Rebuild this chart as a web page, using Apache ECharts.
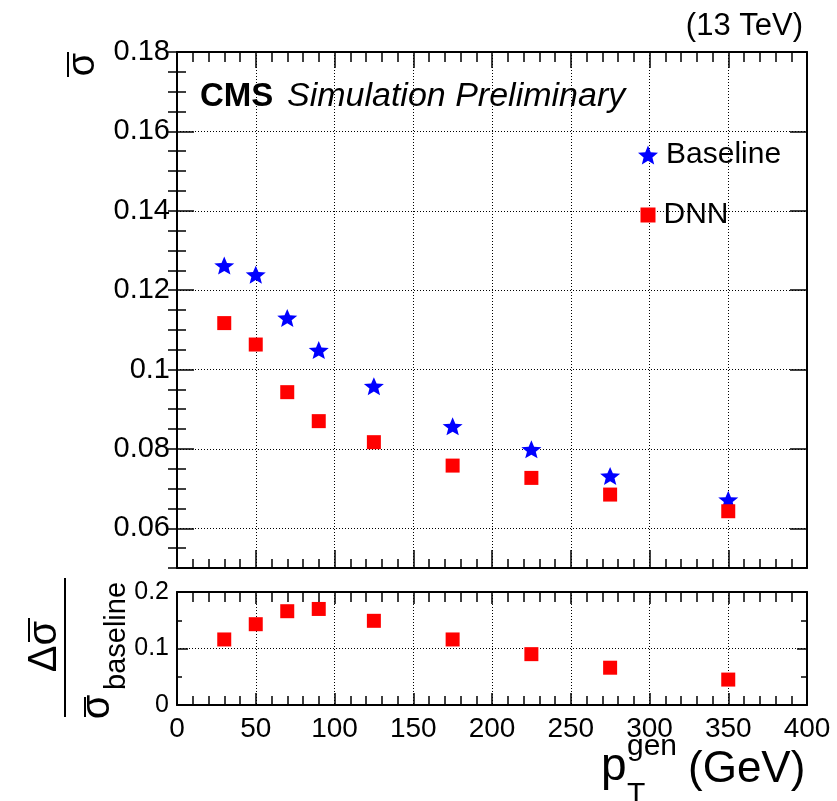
<!DOCTYPE html>
<html>
<head>
<meta charset="utf-8">
<script src="https://cdn.jsdelivr.net/npm/echarts@6/dist/echarts.min.js"></script>
<style>
  html, body { margin: 0; padding: 0; background: #fff; }
  #main { width: 837px; height: 801px; }
</style>
</head>
<body>
<div id="main"></div>
<script>
// values
var ptGen = [30, 50, 70, 90, 125, 175, 225, 275, 350];
var sigmaBaseline = [0.1262, 0.1239, 0.1130, 0.1049, 0.0958, 0.0857, 0.0799, 0.0732, 0.0672];
var sigmaDNN = [0.1117, 0.1063, 0.0943, 0.0870, 0.0817, 0.0758, 0.0727, 0.0685, 0.0643];
var relGain = [0.116, 0.143, 0.166, 0.170, 0.149, 0.116, 0.090, 0.066, 0.045];
var seriesNames = ['Baseline', 'DNN'];

var FONT = '"Liberation Sans", Arial, Helvetica, sans-serif';
// 5 point star like the ROOT marker (no built-in star symbol in echarts)
var STAR = 'path://M50,0L62.93,32.2L97.55,34.55L70.92,56.8L79.39,90.45L50,72L20.61,90.45L29.08,56.8L2.45,34.55L37.07,32.2Z';
var GRIDLINE = { color: '#000', width: 1, type: [1, 2] };

function pairs(xs, ys) {
  var out = [];
  for (var i = 0; i < xs.length; i++) {
    out.push([xs[i], ys[i]]);
  }
  return out;
}

// x axis helper, ROOT style ticks pointing inside
function xAx(grid, pos, major, minor, labels, grid_lines) {
  return {
    type: 'value', gridIndex: grid, position: pos,
    min: 0, max: 400, interval: 50,
    axisLine: { show: true, onZero: false, lineStyle: { color: '#000', width: 2 } },
    axisTick: { show: true, inside: true, length: major, lineStyle: { color: '#000', width: 1.5 } },
    minorTick: { show: true, splitNumber: 5, length: minor, lineStyle: { color: '#000', width: 1.5 } },
    axisLabel: { show: labels, margin: 10, fontSize: 28, color: '#000', fontFamily: FONT },
    splitLine: { show: grid_lines, lineStyle: GRIDLINE }
  };
}

function txt(x, y, s, size, extra) {
  var st = { text: s, fontSize: size, fontFamily: FONT, fill: '#000', align: 'left', verticalAlign: 'middle' };
  for (var k in (extra || {})) st[k] = extra[k];
  return { type: 'text', x: x, y: y, style: st };
}

function legendFor(name, top, size, leftPos) {
  return {
    data: [name], orient: 'vertical',
    left: leftPos, top: top, padding: 0,
    itemWidth: size, itemHeight: size,
    textStyle: { fontSize: 30, color: '#000', fontFamily: FONT, padding: [0, 0, 0, 3] }
  };
}

var myChart = echarts.init(document.getElementById('main'));

var option = {
  backgroundColor: '#fff',
  animation: false,
  grid: [
    { left: 177, top: 52, width: 630, height: 516 },
    { left: 177, top: 592, width: 630, height: 113 }
  ],
  xAxis: [
    xAx(0, 'bottom', 18, 9, false, true),
    xAx(0, 'top', 16, 10, false, false),
    xAx(1, 'bottom', 12, 9, true, true),
    xAx(1, 'top', 12, 10, false, false)
  ],
  yAxis: [
    // top panel, major ticks (auto interval 0.02 starting at 0.06)
    {
      type: 'value', gridIndex: 0, position: 'left',
      min: 0.05, max: 0.18, splitNumber: 6,
      axisLine: { show: true, onZero: false, lineStyle: { color: '#000', width: 2 } },
      axisTick: { show: true, inside: true, length: 17, lineStyle: { color: '#000', width: 1.5 } },
      axisLabel: { show: true, showMinLabel: false, margin: 7, fontSize: 29, color: '#000', fontFamily: FONT },
      splitLine: { show: true, lineStyle: GRIDLINE }
    },
    // top panel, minor ticks every 0.005
    {
      type: 'value', gridIndex: 0, position: 'left',
      min: 0.05, max: 0.18, interval: 0.005,
      axisLine: { show: false },
      axisTick: { show: true, inside: true, length: 9, lineStyle: { color: '#000', width: 1.5 } },
      axisLabel: { show: false },
      splitLine: { show: false }
    },
    {
      type: 'value', gridIndex: 0, position: 'right',
      min: 0.05, max: 0.18, splitNumber: 6,
      axisLine: { show: true, onZero: false, lineStyle: { color: '#000', width: 2 } },
      axisTick: { show: true, inside: true, length: 17, lineStyle: { color: '#000', width: 1.5 } },
      axisLabel: { show: false },
      splitLine: { show: false }
    },
    {
      type: 'value', gridIndex: 0, position: 'right',
      min: 0.05, max: 0.18, interval: 0.005,
      axisLine: { show: false },
      axisTick: { show: true, inside: true, length: 9, lineStyle: { color: '#000', width: 1.5 } },
      axisLabel: { show: false },
      splitLine: { show: false }
    },
    // ratio panel
    {
      type: 'value', gridIndex: 1, position: 'left',
      min: 0, max: 0.2, interval: 0.1,
      axisLine: { show: true, onZero: false, lineStyle: { color: '#000', width: 2 } },
      axisTick: { show: true, inside: true, length: 11, lineStyle: { color: '#000', width: 1.5 } },
      minorTick: { show: true, splitNumber: 2, length: 5, lineStyle: { color: '#000', width: 1.5 } },
      axisLabel: { show: true, margin: 8, fontSize: 25, color: '#000', fontFamily: FONT },
      splitLine: { show: true, lineStyle: GRIDLINE }
    },
    {
      type: 'value', gridIndex: 1, position: 'right',
      min: 0, max: 0.2, interval: 0.1,
      axisLine: { show: true, onZero: false, lineStyle: { color: '#000', width: 2 } },
      axisTick: { show: true, inside: true, length: 10, lineStyle: { color: '#000', width: 1.5 } },
      minorTick: { show: true, splitNumber: 2, length: 6, lineStyle: { color: '#000', width: 1.5 } },
      axisLabel: { show: false },
      splitLine: { show: false }
    }
  ],
  // one legend per entry so the star and the square can have their own sizes
  legend: [
    legendFor(seriesNames[0], 140, 20, 638),
    legendFor(seriesNames[1], 200, 15, 640.5)
  ],
  series: [
    {
      name: seriesNames[0], type: 'scatter', xAxisIndex: 0, yAxisIndex: 0,
      symbol: STAR, symbolSize: [20, 19], symbolKeepAspect: true,
      itemStyle: { color: '#0000ff', opacity: 1 },
      data: pairs(ptGen, sigmaBaseline)
    },
    {
      name: seriesNames[1], type: 'scatter', xAxisIndex: 0, yAxisIndex: 0,
      symbol: 'rect', symbolSize: 14,
      itemStyle: { color: '#ff0000', opacity: 1 },
      data: pairs(ptGen, sigmaDNN)
    },
    {
      name: 'ratio', type: 'scatter', xAxisIndex: 2, yAxisIndex: 4,
      symbol: 'rect', symbolSize: 14,
      itemStyle: { color: '#ff0000', opacity: 1 },
      data: pairs(ptGen, relGain)
    }
  ],
  graphic: [
    // CMS label
    txt(200, 96.5, 'CMS', 33, { fontWeight: 'bold' }),
    txt(287, 96.5, 'Simulation Preliminary', 34, { fontStyle: 'italic' }),
    // energy
    txt(803, 26, '(13 TeV)', 31, { align: 'right' }),
    // x title
    txt(601, 767, 'p', 46),
    txt(627, 747, 'gen', 30),
    txt(627, 795, 'T', 30),
    txt(688, 770, '(GeV)', 44),
    // y title, top panel (sigma bar)
    {
      type: 'group', x: 68, y: 64.5, rotation: Math.PI / 2,
      children: [
        txt(0, 16, 'σ', 38, { align: 'center' }),
        { type: 'line', shape: { x1: -12.5, y1: 0, x2: 12.5, y2: 0 }, style: { stroke: '#000', lineWidth: 2 } }
      ]
    },
    // y title, ratio panel
    {
      type: 'group', x: 65, y: 647.5, rotation: Math.PI / 2,
      children: [
        { type: 'line', shape: { x1: -69.5, y1: 0, x2: 69.5, y2: 0 }, style: { stroke: '#000', lineWidth: 2 } },
        txt(1, -20, 'Δσ', 40, { align: 'center' }),
        { type: 'line', shape: { x1: 5.5, y1: -36, x2: 29.5, y2: -36 }, style: { stroke: '#000', lineWidth: 2 } },
        txt(-59.5, 33, 'σ', 40, { align: 'center' }),
        { type: 'line', shape: { x1: -69.5, y1: 20, x2: -49.5, y2: 20 }, style: { stroke: '#000', lineWidth: 2 } },
        txt(-42.5, 52, 'baseline', 29)
      ]
    }
  ]
};

myChart.setOption(option);
</script>
</body>
</html>
